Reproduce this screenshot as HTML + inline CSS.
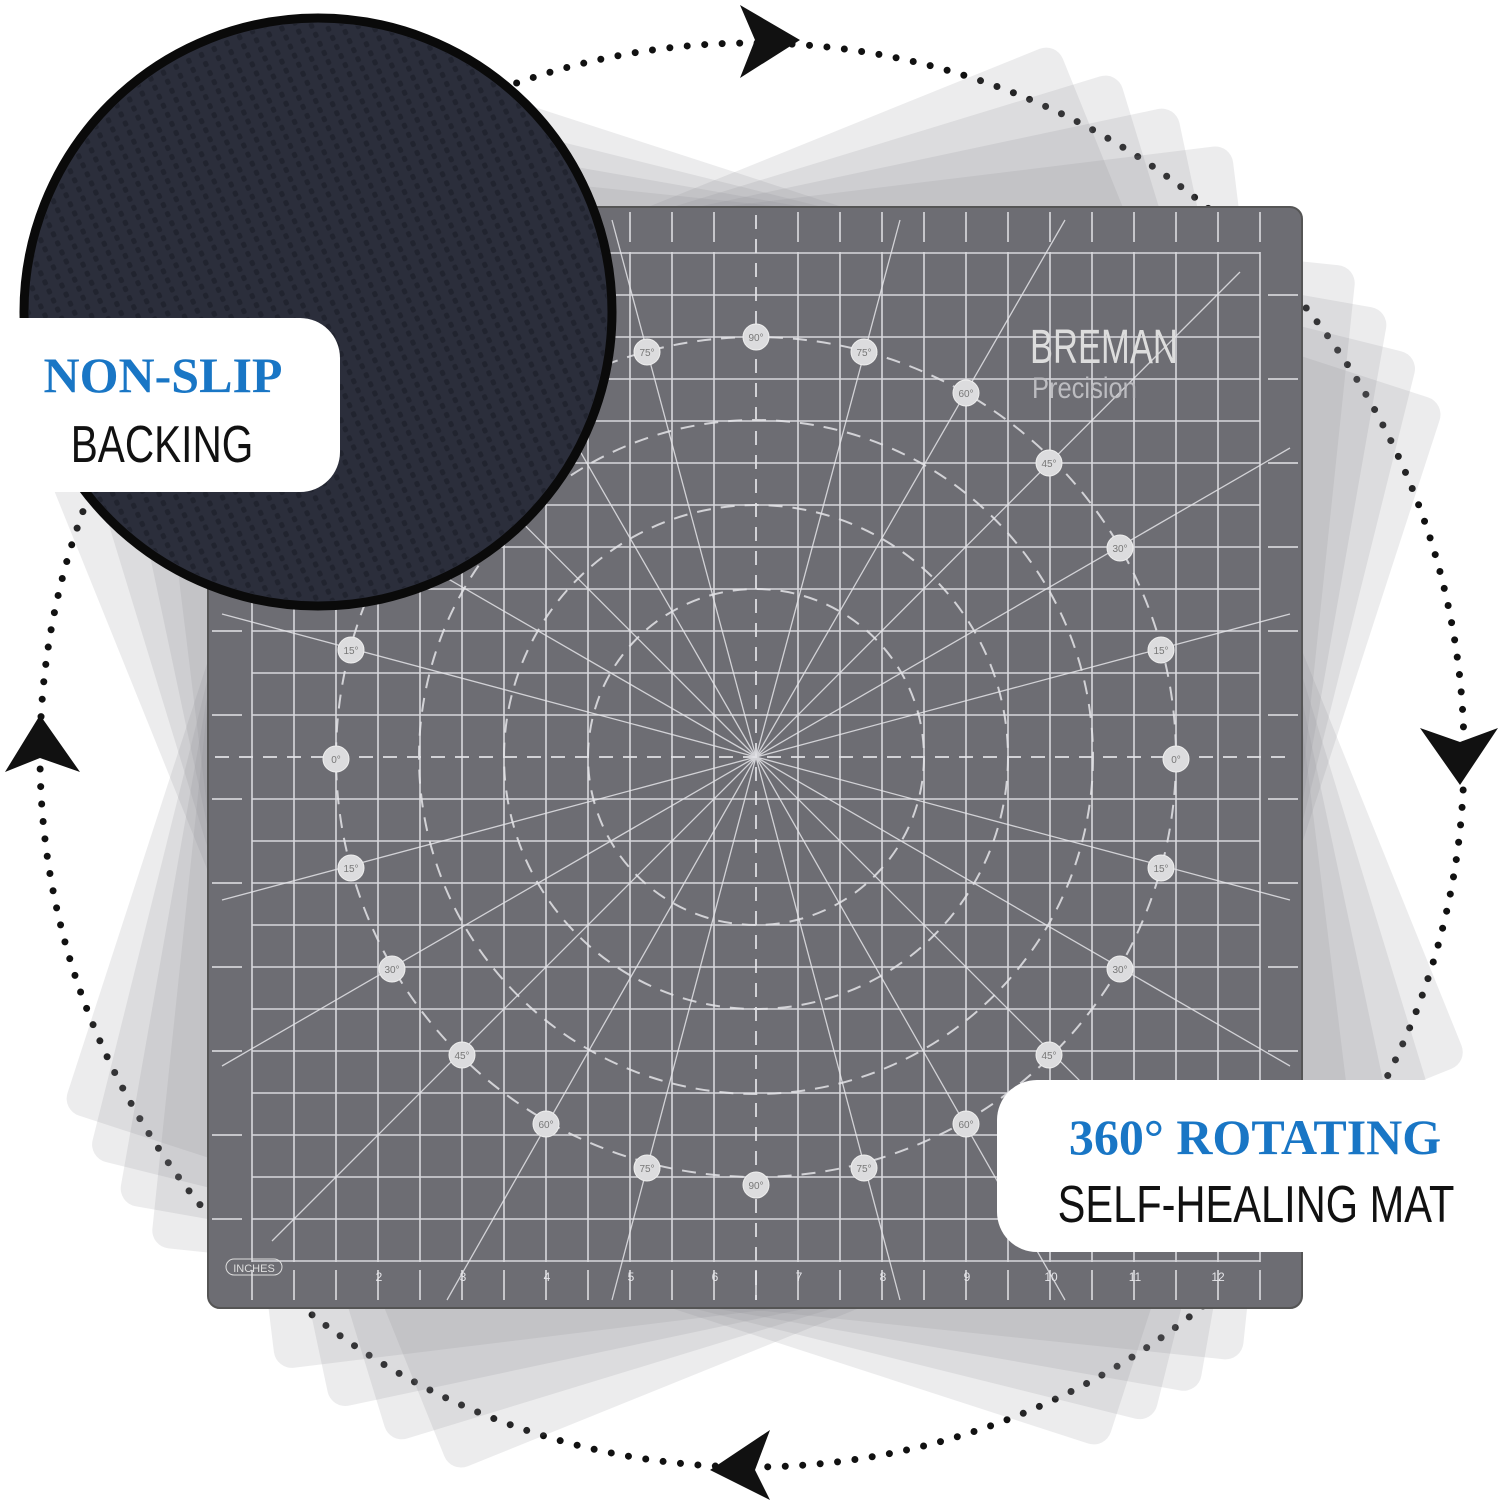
<!DOCTYPE html>
<html><head><meta charset="utf-8"><style>
html,body{margin:0;padding:0;background:#fff;width:1500px;height:1500px;overflow:hidden;font-family:"Liberation Sans",sans-serif}
</style></head><body>
<svg width="1500" height="1500" viewBox="0 0 1500 1500" xmlns="http://www.w3.org/2000/svg">
<defs>
<pattern id="dots" width="14" height="10" patternUnits="userSpaceOnUse" patternTransform="rotate(-25)">
<rect x="3" y="2" width="5" height="6" rx="2" fill="#1b1d27"/>
</pattern>
</defs>
<rect width="1500" height="1500" fill="#fff"/>
<circle cx="752" cy="755" r="712" fill="none" stroke="#111" stroke-width="7" stroke-linecap="round" stroke-dasharray="0 17.5"/>
<polygon points="740,5 800,40 740,78 755,40" fill="#111"/>
<polygon points="1420,728 1460,785 1498,728 1460,742" fill="#111"/>
<polygon points="770,1430 710,1470 770,1500 755,1470" fill="#111"/>
<polygon points="5,772 40,715 80,772 40,758" fill="#111"/>
<g fill="#8a8a90" fill-opacity="0.16">
<rect x="205" y="207" width="1097" height="1100" rx="18" transform="rotate(-22 755 757)"/>
<rect x="205" y="207" width="1097" height="1100" rx="18" transform="rotate(-17 755 757)"/>
<rect x="205" y="207" width="1097" height="1100" rx="18" transform="rotate(-12 755 757)"/>
<rect x="205" y="207" width="1097" height="1100" rx="18" transform="rotate(-7 755 757)"/>
<rect x="205" y="207" width="1097" height="1100" rx="18" transform="rotate(6 755 757)"/>
<rect x="205" y="207" width="1097" height="1100" rx="18" transform="rotate(10 755 757)"/>
<rect x="205" y="207" width="1097" height="1100" rx="18" transform="rotate(14 755 757)"/>
<rect x="205" y="207" width="1097" height="1100" rx="18" transform="rotate(18 755 757)"/>
</g>
<rect x="208" y="207" width="1094" height="1101" rx="12" fill="#6d6d73" stroke="#555" stroke-width="2"/>
<g stroke="#e4e4e8" stroke-width="1.6" opacity="0.9">
<path d="M252 252V1262M294 252V1262M336 252V1262M378 252V1262M420 252V1262M462 252V1262M504 252V1262M546 252V1262M588 252V1262M630 252V1262M672 252V1262M714 252V1262M798 252V1262M840 252V1262M882 252V1262M924 252V1262M966 252V1262M1008 252V1262M1050 252V1262M1092 252V1262M1134 252V1262M1176 252V1262M1218 252V1262M1260 252V1262"/>
<path d="M252 253H1260M252 295H1260M252 337H1260M252 379H1260M252 421H1260M252 463H1260M252 505H1260M252 547H1260M252 589H1260M252 631H1260M252 673H1260M252 715H1260M252 799H1260M252 841H1260M252 883H1260M252 925H1260M252 967H1260M252 1009H1260M252 1051H1260M252 1093H1260M252 1135H1260M252 1177H1260M252 1219H1260M252 1261H1260"/>
</g>
<g stroke="#e4e4e8" stroke-width="2" stroke-dasharray="14 10" fill="none" opacity="0.85">
<path d="M756 215V1300M215 757H1295"/>
<circle cx="756" cy="757" r="420"/>
<circle cx="756" cy="757" r="337"/>
<circle cx="756" cy="757" r="252"/>
<circle cx="756" cy="757" r="168"/>
</g>
<g stroke="#e4e4e8" stroke-width="1.3" opacity="0.85">
<path d="M756 757L1290 614M756 757L1290 448M756 757L1240 272M756 757L1065 220M756 757L900 220M756 757L612 220M756 757L447 220M756 757L272 272M756 757L222 448M756 757L222 614M756 757L222 900M756 757L222 1066M756 757L272 1241M756 757L447 1300M756 757L612 1300M756 757L900 1300M756 757L1065 1300M756 757L1240 1241M756 757L1290 1066M756 757L1290 900"/>
</g>
<g stroke="#e4e4e8" stroke-width="1.5">
<path d="M252 212v30M294 212v30M336 212v30M378 212v30M420 212v30M462 212v30M504 212v30M546 212v30M588 212v30M630 212v30M672 212v30M714 212v30M798 212v30M840 212v30M882 212v30M924 212v30M966 212v30M1008 212v30M1050 212v30M1092 212v30M1134 212v30M1176 212v30M1218 212v30M1260 212v30"/>
<path d="M252 1270v30M294 1270v30M336 1270v30M378 1270v30M420 1270v30M462 1270v30M504 1270v30M546 1270v30M588 1270v30M630 1270v30M672 1270v30M714 1270v30M756 1270v30M798 1270v30M840 1270v30M882 1270v30M924 1270v30M966 1270v30M1008 1270v30M1050 1270v30M1092 1270v30M1134 1270v30M1176 1270v30M1218 1270v30M1260 1270v30"/>
<path d="M212 295h30M212 379h30M212 463h30M212 547h30M212 631h30M212 715h30M212 799h30M212 883h30M212 967h30M212 1051h30M212 1135h30M212 1219h30M1268 295h30M1268 379h30M1268 463h30M1268 547h30M1268 631h30M1268 715h30M1268 799h30M1268 883h30M1268 967h30M1268 1051h30M1268 1135h30M1268 1219h30"/>
</g>
<g fill="#e4e4e8" font-size="12" text-anchor="middle">
<text x="379" y="1281">2</text><text x="463" y="1281">3</text><text x="547" y="1281">4</text><text x="631" y="1281">5</text><text x="715" y="1281">6</text><text x="799" y="1281">7</text><text x="883" y="1281">8</text><text x="967" y="1281">9</text><text x="1051" y="1281">10</text><text x="1135" y="1281">11</text><text x="1218" y="1281">12</text>
</g>
<rect x="226" y="1259" width="56" height="16" rx="8" fill="none" stroke="#ddd" stroke-width="1"/>
<text x="254" y="1272" fill="#ddd" font-size="11" text-anchor="middle">INCHES</text>
<g fill="#dcdcde" stroke="#eee" stroke-width="1">
<circle cx="336" cy="759" r="13"/><circle cx="1176" cy="759" r="13"/>
<circle cx="756" cy="337" r="13"/><circle cx="756" cy="1185" r="13"/>
<circle cx="351" cy="650" r="13"/><circle cx="1161" cy="650" r="13"/>
<circle cx="351" cy="868" r="13"/><circle cx="1161" cy="868" r="13"/>
<circle cx="392" cy="969" r="13"/><circle cx="1120" cy="969" r="13"/>
<circle cx="1120" cy="548" r="13"/><circle cx="462" cy="1055" r="13"/>
<circle cx="1049" cy="1055" r="13"/><circle cx="1049" cy="463" r="13"/>
<circle cx="546" cy="1124" r="13"/><circle cx="966" cy="1124" r="13"/>
<circle cx="966" cy="393" r="13"/><circle cx="647" cy="1168" r="13"/>
<circle cx="864" cy="1168" r="13"/><circle cx="864" cy="352" r="13"/>
<circle cx="647" cy="352" r="13"/>
</g>
<g fill="#777" font-size="10" text-anchor="middle">
<text x="336" y="763">0°</text><text x="1176" y="763">0°</text><text x="756" y="341">90°</text><text x="756" y="1189">90°</text>
<text x="351" y="654">15°</text><text x="1161" y="654">15°</text><text x="351" y="872">15°</text><text x="1161" y="872">15°</text>
<text x="392" y="973">30°</text><text x="1120" y="973">30°</text><text x="1120" y="552">30°</text>
<text x="462" y="1059">45°</text><text x="1049" y="1059">45°</text><text x="1049" y="467">45°</text>
<text x="546" y="1128">60°</text><text x="966" y="1128">60°</text><text x="966" y="397">60°</text>
<text x="647" y="1172">75°</text><text x="864" y="1172">75°</text><text x="864" y="356">75°</text><text x="647" y="356">75°</text>
</g>
<text transform="translate(1030 363) scale(0.72 1)" fill="#ddd" font-size="48">BREMAN</text>
<text transform="translate(1032 398) scale(0.85 1)" fill="#bcbcc0" font-size="30">Precision</text>
<circle cx="318" cy="312" r="294" fill="#2b2e3b" stroke="#0a0a0a" stroke-width="9"/>
<circle cx="318" cy="312" r="289" fill="url(#dots)" opacity="0.6"/>
<rect x="-20" y="318" width="360" height="174" rx="40" fill="#fff"/>
<text x="163" y="392" fill="#1976c5" font-size="50" font-weight="bold" font-family="Liberation Serif, serif" text-anchor="middle">NON-SLIP</text>
<text transform="translate(162 462) scale(0.78 1)" fill="#111" font-size="52" text-anchor="middle">BACKING</text>
<rect x="997" y="1080" width="540" height="172" rx="40" fill="#fff"/>
<text x="1255" y="1154" fill="#1976c5" font-size="50" font-weight="bold" font-family="Liberation Serif, serif" text-anchor="middle">360° ROTATING</text>
<text transform="translate(1256 1222) scale(0.8 1)" fill="#111" font-size="52" text-anchor="middle">SELF-HEALING MAT</text>
</svg>
</body></html>
